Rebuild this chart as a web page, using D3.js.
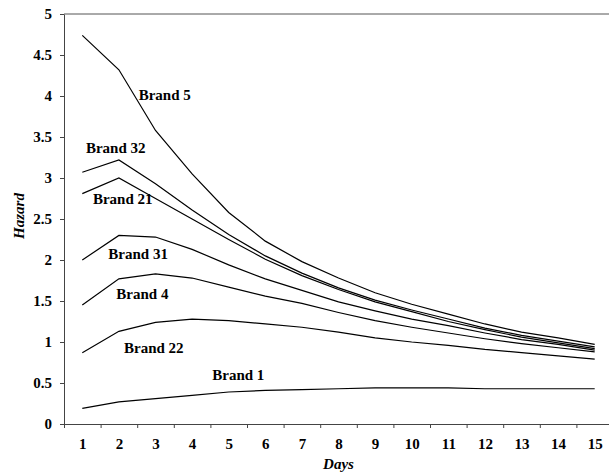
<!DOCTYPE html>
<html>
<head>
<meta charset="utf-8">
<script src="https://cdn.jsdelivr.net/npm/d3@7"></script>
<style>
  html, body { margin: 0; padding: 0; background: #fff; }
  svg { display: block; }
  text { font-family: "Liberation Serif", "Times New Roman", serif; font-weight: bold; fill: #000; }
</style>
</head>
<body>
<svg id="chart" width="609" height="474"></svg>
<script>
// Days on the horizontal axis
const days = [1, 2, 3, 4, 5, 6, 7, 8, 9, 10, 11, 12, 13, 14, 15];

// Hazard by day for each brand
const brand5  = [4.74, 4.32, 3.58, 3.05, 2.58, 2.23, 1.98, 1.78, 1.60, 1.46, 1.34, 1.22, 1.12, 1.05, 0.97];
const brand32 = [3.07, 3.22, 2.93, 2.61, 2.31, 2.05, 1.84, 1.66, 1.51, 1.39, 1.28, 1.17, 1.08, 1.01, 0.94];
const brand21 = [2.81, 3.00, 2.75, 2.50, 2.25, 2.01, 1.81, 1.64, 1.49, 1.37, 1.25, 1.15, 1.06, 0.99, 0.92];
const brand31 = [2.00, 2.30, 2.28, 2.13, 1.94, 1.77, 1.63, 1.49, 1.38, 1.28, 1.20, 1.11, 1.03, 0.97, 0.90];
const brand4  = [1.45, 1.77, 1.83, 1.78, 1.67, 1.56, 1.47, 1.36, 1.26, 1.18, 1.11, 1.04, 0.98, 0.93, 0.88];
const brand22 = [0.87, 1.13, 1.24, 1.28, 1.26, 1.22, 1.18, 1.12, 1.05, 1.00, 0.96, 0.91, 0.87, 0.83, 0.79];
const brand1  = [0.19, 0.27, 0.31, 0.35, 0.39, 0.41, 0.42, 0.43, 0.44, 0.44, 0.44, 0.43, 0.43, 0.43, 0.43];

const seriesNames = ["Brand 5", "Brand 32", "Brand 21", "Brand 31", "Brand 4", "Brand 22", "Brand 1"];
const seriesValues = [brand5, brand32, brand21, brand31, brand4, brand22, brand1];

// Hazard axis ticks
const yTicks = [0, 0.5, 1, 1.5, 2, 2.5, 3, 3.5, 4, 4.5, 5];

// Where each series name sits: [day, hazard] of the label's left baseline
const labelAnchors = [[2.54, 3.95], [1.1, 3.3], [1.29, 2.68], [1.71, 2.01], [1.93, 1.53], [2.14, 0.86], [4.55, 0.54]];

const svg = d3.select("#chart");
const plotLeft = 64, plotTop = 14, plotBottom = 424;
const step = 36.6;

const x = d3.scaleLinear().domain([0.5, 15.5]).range([plotLeft, plotLeft + 15 * step]);
const y = d3.scaleLinear().domain([0, 5]).range([plotBottom, plotTop]);

// frame: top border
svg.append("line")
  .attr("x1", plotLeft).attr("x2", x(15.5))
  .attr("y1", y(5)).attr("y2", y(5))
  .attr("stroke", "#555").attr("stroke-width", 1);

// y axis
const yAxis = svg.append("g")
  .attr("transform", `translate(${plotLeft},0)`)
  .call(d3.axisLeft(y).tickValues(yTicks).tickFormat(d3.format("")).tickSize(4).tickPadding(8).tickSizeOuter(0));
yAxis.select(".domain").attr("stroke", "#444");
yAxis.selectAll(".tick line").attr("stroke", "#444");
yAxis.selectAll("text").style("font-size", "15px").attr("fill", "#000");

// x axis: tick marks between days
const xTickMarks = svg.append("g")
  .attr("transform", `translate(0,${plotBottom})`)
  .call(d3.axisBottom(x).tickValues(d3.range(0.5, 15.6, 1)).tickFormat("").tickSize(4).tickSizeOuter(0));
xTickMarks.select(".domain").attr("stroke", "#444");
xTickMarks.selectAll(".tick line").attr("stroke", "#444");

// x axis: day labels centred on each day
const xLabels = svg.append("g")
  .attr("transform", `translate(0,${plotBottom})`)
  .call(d3.axisBottom(x).tickValues(days).tickFormat(d3.format("d")).tickSize(0).tickPadding(14));
xLabels.select(".domain").remove();
xLabels.selectAll("text").style("font-size", "15px").attr("fill", "#000");

// hazard curves
const line = d3.line().x((d, i) => x(days[i])).y(d => y(d));
svg.append("g").selectAll("path")
  .data(seriesValues)
  .join("path")
  .attr("d", line)
  .attr("fill", "none")
  .attr("stroke", "#000")
  .attr("stroke-width", 1.2);

// series labels
svg.append("g").selectAll("text")
  .data(seriesNames)
  .join("text")
  .attr("x", (d, i) => x(labelAnchors[i][0]))
  .attr("y", (d, i) => y(labelAnchors[i][1]))
  .style("font-size", "15px")
  .text(d => d);

// axis titles
svg.append("text")
  .attr("x", (x(0.5) + x(15.5)) / 2)
  .attr("y", 469)
  .attr("text-anchor", "middle")
  .style("font-size", "15px")
  .style("font-style", "italic")
  .text("Days");

svg.append("text")
  .attr("transform", "translate(24,216) rotate(-90)")
  .attr("text-anchor", "middle")
  .style("font-size", "15px")
  .style("font-style", "italic")
  .text("Hazard");
</script>
</body>
</html>
